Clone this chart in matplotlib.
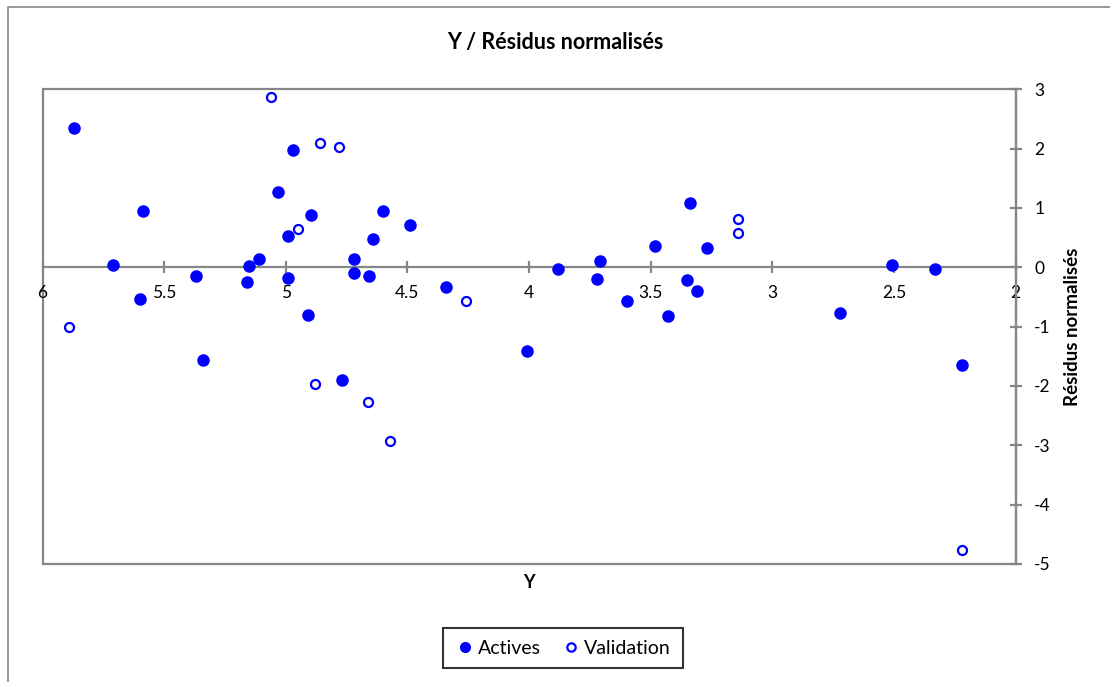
import matplotlib
matplotlib.use("Agg")
import matplotlib.pyplot as plt
from matplotlib.lines import Line2D
from matplotlib.patches import Rectangle

# Values
actives_x = [5.870, 5.709, 5.588, 5.599, 5.370, 5.341, 5.159, 5.150, 5.110, 5.030,
             4.992, 4.992, 4.970, 4.910, 4.897, 4.770, 4.719, 4.719, 4.659, 4.641,
             4.599, 4.490, 4.341, 4.009, 3.880, 3.720, 3.708, 3.598, 3.480, 3.429,
             3.349, 3.340, 3.308, 3.269, 2.720, 2.507, 2.330, 2.219]
actives_y = [2.344, 0.044, 0.955, -0.540, -0.152, -1.563, -0.253, 0.022, 0.140, 1.275,
             0.522, -0.175, 1.973, -0.799, 0.887, -1.900, 0.140, -0.096, -0.152, 0.477,
             0.955, 0.713, -0.332, -1.411, -0.029, -0.192, 0.101, -0.568, 0.365, -0.827,
             -0.208, 1.084, -0.400, 0.320, -0.765, 0.039, -0.034, -1.648]

validation_x = [5.890, 5.060, 4.949, 4.881, 4.859, 4.780, 4.660, 4.570, 4.260, 3.141,
                3.141, 2.219]
validation_y = [-1.002, 2.877, 0.651, -1.973, 2.091, 2.024, -2.272, -2.924, -0.568, 0.809,
                0.573, -4.756]

x_ticks = [6, 5.5, 5, 4.5, 4, 3.5, 3, 2.5, 2]
x_tick_labels = ["6", "5.5", "5", "4.5", "4", "3.5", "3", "2.5", "2"]
y_ticks = [3, 2, 1, 0, -1, -2, -3, -4, -5]

title = "Y / Résidus normalisés"
x_label = "Y"
y_label = "Résidus normalisés"

BLUE = "#0000ff"
GRAY = "#868686"

plt.rcParams['font.family'] = ['Lato', 'DejaVu Sans']

fig = plt.figure(figsize=(11.1, 6.82), dpi=100)
ax = fig.add_axes([42.5 / 1110, 118 / 682, 973 / 1110, 474.7 / 682])

# outer chart border (left and top visible)
fig.patches.append(Rectangle((8 / 1110, -0.1), 1.2, 0.1 + (682 - 7) / 682,
                             transform=fig.transFigure, fill=False,
                             edgecolor=GRAY, linewidth=1.2))

ax.plot(actives_x, actives_y, 'o', color=BLUE, markersize=8, label="Actives",
        clip_on=False, zorder=3)
ax.plot(validation_x, validation_y, 'o', markerfacecolor='white', markeredgecolor=BLUE,
        markeredgewidth=1.6, markersize=6.5, label="Validation", clip_on=False, zorder=3)

ax.set_xlim(6, 2)
ax.set_ylim(-5, 3)

# plot-area frame
ax.patch.set_edgecolor(GRAY)
ax.patch.set_linewidth(1.6)
for s in ['top', 'left']:
    ax.spines[s].set_visible(False)
ax.spines['bottom'].set_position(('data', 0))
ax.spines['bottom'].set_color(GRAY)
ax.spines['bottom'].set_linewidth(1.6)
ax.spines['right'].set_color(GRAY)
ax.spines['right'].set_linewidth(1.6)

ax.set_xticks(x_ticks)
ax.set_xticklabels(x_tick_labels)
ax.yaxis.tick_right()
ax.yaxis.set_label_position('right')
ax.set_yticks(y_ticks)
ax.set_yticklabels([str(v) for v in y_ticks])
ax.tick_params(axis='both', direction='inout', length=9, width=1.6, color=GRAY,
               labelsize=12.5, labelcolor='black')
ax.tick_params(axis='x', pad=8)
ax.tick_params(axis='y', pad=9)

fig.text(555 / 1110, 1 - 42 / 682, title, ha='center', va='center',
         fontsize=15.5, fontweight='bold')
fig.text(529 / 1110, 1 - 583 / 682, x_label, ha='center', va='center',
         fontsize=13, fontweight='bold')
fig.text(1072 / 1110, 1 - 326.6 / 682, y_label, ha='center', va='center',
         rotation=90, fontsize=13.5, fontweight='bold')

handles = [
    Line2D([], [], linestyle='none', marker='o', color=BLUE, markersize=7),
    Line2D([], [], linestyle='none', marker='o', markerfacecolor='white',
           markeredgecolor=BLUE, markeredgewidth=1.6, markersize=6),
]
leg = fig.legend(handles, ["Actives", "Validation"], loc='center',
                 bbox_to_anchor=(563 / 1110, 1 - 648 / 682), ncol=2,
                 fontsize=14, frameon=True, fancybox=False, handlelength=1.0,
                 handletextpad=0.2, columnspacing=1.0, borderpad=0.6,
                 borderaxespad=0)
leg.get_frame().set_edgecolor('black')
leg.get_frame().set_linewidth(1.5)

fig.savefig("out.png", dpi=100)
